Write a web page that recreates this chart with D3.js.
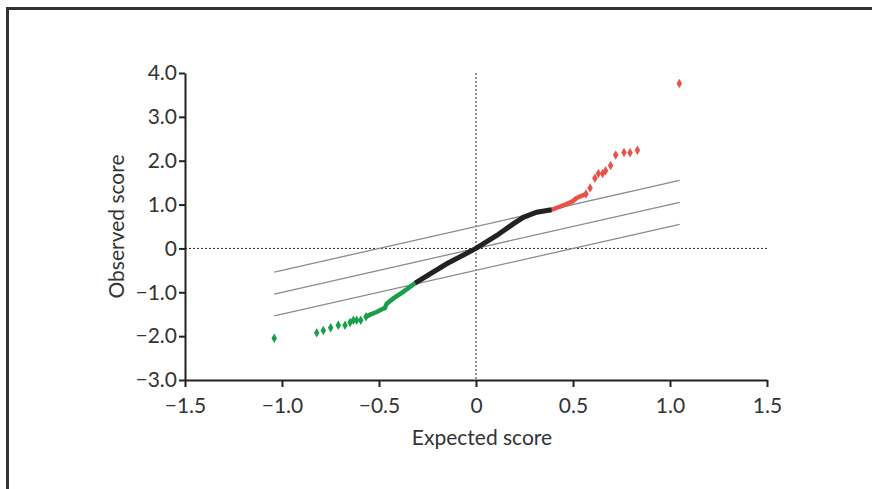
<!DOCTYPE html>
<html>
<head>
<meta charset="utf-8">
<script src="https://cdn.jsdelivr.net/npm/d3@7"></script>
<style>
  body { margin: 0; background: #fff; }
  text { font-family: Lato, "Open Sans", sans-serif; font-weight: 400; fill: #333; }
</style>
</head>
<body>
<svg id="chart" width="872" height="489"></svg>
<script>
// Values

const xTicks = [-1.5, -1.0, -0.5, 0, 0.5, 1.0, 1.5]
const yTicks = [-3, -2, -1, 0, 1, 2, 3, 4]

// reference bands: observed = expected + offset
const bandOffsets = [0.5, 0, -0.5]
const bandX = [-1.04, 1.05]

// scattered low tail (green)
const greenDotX = [-1.04, -0.821, -0.787, -0.749, -0.71, -0.675, -0.649, -0.632, -0.615, -0.594, -0.567]
const greenDotY = [-2.05, -1.92, -1.87, -1.81, -1.75, -1.75, -1.69, -1.64, -1.64, -1.64, -1.56]

// dense low tail (green)
const greenLineX = [-0.567, -0.546, -0.512, -0.478, -0.47, -0.46, -0.426, -0.375, -0.314]
const greenLineY = [-1.56, -1.51, -1.45, -1.37, -1.36, -1.26, -1.14, -0.99, -0.79]

// middle (black)
const blackX = [-0.314, -0.151, 0, 0.107, 0.192, 0.244, 0.313, 0.39]
const blackY = [-0.79, -0.35, 0, 0.295, 0.56, 0.71, 0.825, 0.88]

// dense high tail (red)
const redLineX = [0.39, 0.43, 0.467, 0.5, 0.519, 0.545, 0.567]
const redLineY = [0.88, 0.95, 1.01, 1.08, 1.15, 1.2, 1.24]

// scattered high tail (red)
const redDotX = [0.567, 0.588, 0.613, 0.631, 0.653, 0.668, 0.694, 0.72, 0.763, 0.794, 0.832, 1.048]
const redDotY = [1.24, 1.38, 1.6, 1.71, 1.71, 1.77, 1.89, 2.13, 2.19, 2.18, 2.24, 3.76]

const GREEN = '#1a9e4a'
const RED = '#ea5148'
const BLACK = '#222'
const FONT = 21

const svg = d3.select('#chart')

// outer frame, runs off the right and bottom edge
svg.append('rect')
  .attr('x', 7.5).attr('y', 8.5)
  .attr('width', 900).attr('height', 520)
  .attr('fill', 'none').attr('stroke', '#333').attr('stroke-width', 3)

const x = d3.scaleLinear().domain([-1.5, 1.5]).range([185, 767])
const y = d3.scaleLinear().domain([-3, 4]).range([380, 73])

const fmt = (d) => d === 0 ? '0' : d3.format('.1f')(d).replace('-', '\u2013')

// dotted zero lines
svg.append('line')
  .attr('x1', x(0)).attr('x2', x(0)).attr('y1', y(4)).attr('y2', y(-3))
  .attr('stroke', '#222').attr('stroke-width', 1).attr('stroke-dasharray', '2,2')
svg.append('line')
  .attr('x1', x(-1.5)).attr('x2', x(1.5)).attr('y1', y(0)).attr('y2', y(0))
  .attr('stroke', '#222').attr('stroke-width', 1).attr('stroke-dasharray', '2,2')

// grey bands
svg.append('g').selectAll('line')
  .data(bandOffsets)
  .enter()
  .append('line')
  .attr('x1', x(bandX[0])).attr('x2', x(bandX[1]))
  .attr('y1', (o) => y(bandX[0] + o)).attr('y2', (o) => y(bandX[1] + o))
  .attr('stroke', '#8c8c8c').attr('stroke-width', 1.3)

const line = d3.line().x((d) => x(d[0])).y((d) => y(d[1]))
const zip = (xs, ys) => xs.map((v, i) => [v, ys[i]])

svg.append('path')
  .attr('d', line(zip(greenLineX, greenLineY)))
  .attr('fill', 'none').attr('stroke', GREEN).attr('stroke-width', 4.5)
svg.append('path')
  .attr('d', line(zip(redLineX, redLineY)))
  .attr('fill', 'none').attr('stroke', RED).attr('stroke-width', 4.5)
svg.append('path')
  .attr('d', line(zip(blackX, blackY)))
  .attr('fill', 'none').attr('stroke', BLACK).attr('stroke-width', 5)

const sym = d3.symbol().type(d3.symbolDiamond).size(26)

svg.append('g').selectAll('path')
  .data(zip(greenDotX, greenDotY))
  .enter()
  .append('path')
  .attr('d', sym)
  .attr('transform', (d) => `translate(${x(d[0])},${y(d[1])})`)
  .attr('fill', GREEN)

svg.append('g').selectAll('path')
  .data(zip(redDotX, redDotY))
  .enter()
  .append('path')
  .attr('d', sym)
  .attr('transform', (d) => `translate(${x(d[0])},${y(d[1])})`)
  .attr('fill', RED)

// axes
const xAxis = svg.append('g')
  .attr('transform', `translate(0,${y(-3)})`)
  .call(d3.axisBottom(x).tickValues(xTicks).tickFormat(fmt).tickSize(7).tickSizeOuter(0))
const yAxis = svg.append('g')
  .attr('transform', `translate(${x(-1.5)},0)`)
  .call(d3.axisLeft(y).tickValues(yTicks).tickFormat(fmt).tickSize(6).tickSizeOuter(0))

;[xAxis, yAxis].forEach((a) => {
  a.select('.domain').attr('stroke', BLACK).attr('stroke-width', 2)
  a.selectAll('.tick line').attr('stroke', BLACK).attr('stroke-width', 2)
  a.selectAll('.tick text').attr('font-size', FONT).attr('fill', '#333')
    .style('font-family', 'Lato, "Open Sans", sans-serif')
    .style('font-weight', 400)
})
xAxis.selectAll('.tick text').attr('dy', '1.1em')
yAxis.selectAll('.tick text').attr('x', -8)

svg.append('text')
  .attr('x', x(0) + 6).attr('y', 445)
  .attr('text-anchor', 'middle')
  .attr('font-size', FONT)
  .text('Expected score')

svg.append('text')
  .attr('transform', `translate(124,${(y(4) + y(-3)) / 2}) rotate(-90)`)
  .attr('text-anchor', 'middle')
  .attr('font-size', FONT)
  .text('Observed score')
</script>
</body>
</html>
